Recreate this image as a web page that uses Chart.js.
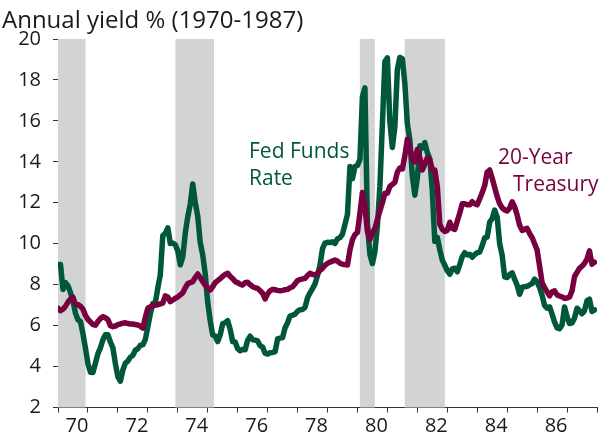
<!DOCTYPE html>
<html>
<head>
<meta charset="utf-8">
<script src="https://cdn.jsdelivr.net/npm/chart.js@4.4.0/dist/chart.umd.min.js"></script>
<style>
html,body{margin:0;padding:0;background:#ffffff;}
#wrap{width:604px;height:437px;position:relative;}
</style>
</head>
<body>
<div id="wrap"><canvas id="c" width="604" height="437"></canvas></div>
<script>
// ---- Data (monthly, Jan 1970 – Dec 1987) ----
const startYear = 1970;
const titleText = 'Annual yield % (1970-1987)';
const xTickLabels = ['70','72','74','76','78','80','82','84','86'];
const yMin = 2, yMax = 20, yStep = 2;

const fedFunds = [
  8.98, 8.98, 7.76, 8.10, 7.95, 7.61, 7.21, 6.61, 6.29, 6.20, 5.60, 4.90,
  4.14, 3.72, 3.71, 4.16, 4.63, 4.91, 5.31, 5.56, 5.55, 5.20, 4.91, 4.14,
  3.50, 3.29, 3.83, 4.17, 4.27, 4.46, 4.55, 4.80, 4.87, 5.04, 5.06, 5.33,
  5.94, 6.58, 7.09, 7.12, 7.84, 8.49, 10.40, 10.50, 10.78, 10.01, 10.03, 9.95,
  9.65, 8.97, 9.35, 10.51, 11.31, 11.93, 12.92, 12.01, 11.34, 10.06, 9.45, 8.53,
  7.13, 6.24, 5.54, 5.49, 5.22, 5.55, 6.10, 6.14, 6.24, 5.82, 5.22, 5.20,
  4.87, 4.77, 4.84, 4.82, 5.29, 5.48, 5.31, 5.29, 5.25, 5.02, 4.95, 4.65,
  4.61, 4.68, 4.69, 4.73, 5.35, 5.39, 5.42, 5.90, 6.14, 6.47, 6.51, 6.56,
  6.70, 6.78, 6.79, 6.89, 7.36, 7.60, 7.81, 8.04, 8.45, 8.96, 9.76, 10.03,
  10.07, 10.06, 10.09, 10.01, 10.24, 10.29, 10.47, 10.94, 11.43, 13.77, 13.18, 13.78,
  13.82, 14.13, 17.19, 17.61, 10.98, 9.47, 9.03, 9.61, 10.87, 12.81, 15.85, 18.90,
  19.08, 15.93, 14.70, 15.72, 18.52, 19.10, 19.04, 17.82, 15.87, 15.08, 13.31, 12.37,
  13.22, 14.78, 14.68, 14.94, 14.45, 14.15, 12.59, 10.12, 10.31, 9.71, 9.20, 8.95,
  8.68, 8.51, 8.77, 8.80, 8.63, 8.98, 9.37, 9.56, 9.45, 9.48, 9.34, 9.47,
  9.56, 9.59, 9.91, 10.29, 10.32, 11.06, 11.23, 11.64, 11.30, 9.99, 9.43, 8.38,
  8.35, 8.50, 8.58, 8.27, 7.97, 7.53, 7.88, 7.90, 7.92, 7.99, 8.05, 8.27,
  8.14, 7.86, 7.48, 6.99, 6.85, 6.92, 6.56, 6.17, 5.89, 5.85, 6.04, 6.91,
  6.43, 6.10, 6.13, 6.37, 6.85, 6.73, 6.58, 6.73, 7.22, 7.29, 6.69, 6.77
];

const treasury20 = [
  6.85, 6.73, 6.80, 6.95, 7.15, 7.30, 7.38, 7.05, 7.02, 6.95, 6.80, 6.50,
  6.30, 6.18, 6.05, 6.02, 6.20, 6.35, 6.44, 6.38, 6.30, 6.00, 5.95, 5.98,
  6.05, 6.08, 6.12, 6.14, 6.10, 6.08, 6.08, 6.05, 6.03, 5.98, 5.88, 6.40,
  6.85, 6.92, 6.97, 7.00, 7.02, 7.06, 7.10, 7.45, 7.40, 7.17, 7.25, 7.33,
  7.40, 7.50, 7.60, 7.85, 8.05, 8.10, 8.15, 8.35, 8.52, 8.35, 8.15, 7.98,
  7.85, 7.74, 7.90, 8.10, 8.20, 8.30, 8.40, 8.50, 8.56, 8.40, 8.30, 8.15,
  8.10, 8.02, 7.98, 8.10, 8.12, 8.00, 7.90, 7.85, 7.82, 7.70, 7.58, 7.30,
  7.55, 7.70, 7.77, 7.75, 7.72, 7.70, 7.72, 7.75, 7.77, 7.85, 7.90, 8.05,
  8.20, 8.25, 8.28, 8.31, 8.45, 8.56, 8.50, 8.47, 8.55, 8.70, 8.80, 8.95,
  9.04, 9.10, 9.15, 9.20, 9.15, 9.05, 9.00, 8.98, 8.96, 9.70, 10.20, 10.45,
  10.55, 11.50, 12.50, 11.80, 10.60, 10.20, 10.55, 10.75, 11.20, 11.60, 12.00, 12.46,
  12.46, 12.80, 12.90, 13.00, 13.50, 13.70, 13.65, 14.30, 15.10, 14.70, 14.10, 14.00,
  14.60, 14.20, 13.60, 13.90, 14.20, 14.10, 13.60, 13.60, 12.80, 10.95, 10.70, 10.60,
  10.65, 11.05, 10.75, 10.70, 11.10, 11.50, 11.95, 11.95, 11.90, 11.90, 12.05, 11.95,
  11.90, 12.20, 12.50, 12.85, 13.50, 13.60, 13.20, 12.75, 12.30, 11.95, 11.75, 11.65,
  11.60, 11.75, 12.05, 11.80, 11.40, 10.90, 10.65, 10.70, 10.75, 10.50, 10.30, 10.00,
  9.70, 8.90, 8.10, 7.85, 7.65, 7.45, 7.65, 7.70, 7.50, 7.45, 7.40, 7.33,
  7.35, 7.40, 7.70, 8.40, 8.60, 8.80, 8.90, 9.05, 9.25, 9.65, 9.00, 9.10
];

// Recession periods (decimal years)
const recessionStart = [1969.92, 1973.92, 1980.08, 1981.58];
const recessionEnd   = [1970.92, 1975.21, 1980.58, 1982.92];

const seriesLabels = ['20-Year Treasury', 'Fed Funds Rate'];
const annotationLines = [
  {text: 'Fed Funds', series: 1},
  {text: 'Rate', series: 1},
  {text: '20-Year', series: 0},
  {text: 'Treasury', series: 0}
];

// ---- Styling ----
const GREEN = '#00573b';
const MAROON = '#780040';
const BAND = '#d1d3d4';
const TEXT = '#1a1a1a';
const FONT = '"Open Sans", "DejaVu Sans", sans-serif';

function toPoints(arr){
  return arr.map((v,i)=>({x: startYear + i/12, y: v}));
}

const recessionPlugin = {
  id: 'recessions',
  beforeDatasetsDraw(chart){
    const {ctx, chartArea, scales} = chart;
    ctx.save();
    ctx.fillStyle = BAND;
    for (let i=0;i<recessionStart.length;i++){
      let x1 = Math.max(scales.x.getPixelForValue(recessionStart[i]), chartArea.left);
      let x2 = Math.min(scales.x.getPixelForValue(recessionEnd[i]), chartArea.right);
      ctx.fillRect(x1, chartArea.top, x2-x1, chartArea.bottom-chartArea.top);
    }
    ctx.restore();
  }
};

const textPlugin = {
  id: 'texts',
  afterDraw(chart){
    const ctx = chart.ctx;
    ctx.save();
    ctx.textBaseline = 'alphabetic';
    ctx.textAlign = 'left';
    ctx.fillStyle = TEXT;
    ctx.font = '24px ' + FONT;
    ctx.fillText(titleText, 2, 28);
    ctx.font = '21px ' + FONT;
    const pos = [[249, 158], [249, 185], [498, 164], [513, 191]];
    annotationLines.forEach((a, i)=>{
      ctx.fillStyle = a.series === 1 ? GREEN : MAROON;
      ctx.fillText(a.text, pos[i][0], pos[i][1]);
    });
    ctx.restore();
  }
};

const ctx = document.getElementById('c').getContext('2d');
new Chart(ctx, {
  type: 'line',
  data: {
    datasets: [
      {label: seriesLabels[0], data: toPoints(treasury20), borderColor: MAROON, borderWidth: 5.5,
       pointRadius: 0, tension: 0, borderJoinStyle: 'round', borderCapStyle: 'round', fill: false},
      {label: seriesLabels[1], data: toPoints(fedFunds), borderColor: GREEN, borderWidth: 5.5,
       pointRadius: 0, tension: 0, borderJoinStyle: 'round', borderCapStyle: 'round', fill: false}
    ]
  },
  options: {
    responsive: false,
    animation: false,
    devicePixelRatio: 1,
    layout: {padding: {top: 39, right: 7, left: 0, bottom: 0}},
    plugins: {legend: {display: false}, tooltip: {enabled: false}, title: {display: false}},
    scales: {
      x: {
        type: 'linear', min: startYear, max: startYear + 18,
        afterFit(s){ s.height = 29.5; },
        afterBuildTicks(s){
          const t = [];
          for (let y = startYear; y <= startYear + 18; y++) t.push({value: y});
          s.ticks = t;
        },
        grid: {drawOnChartArea: false, drawTicks: true, tickLength: 5, color: '#333', lineWidth: 1},
        border: {display: true, color: '#333', width: 1},
        ticks: {
          autoSkip: false, maxRotation: 0, minRotation: 0, padding: 2, labelOffset: 19,
          color: TEXT, font: {family: FONT, size: 20},
          callback(v){
            const lab = String(Math.round(v) % 100).padStart(2,'0');
            return xTickLabels.includes(lab) && v < startYear + 18 ? lab : '';
          }
        }
      },
      y: {
        type: 'linear', min: yMin, max: yMax,
        afterFit(s){ s.width = 58; },
        grid: {drawOnChartArea: false, drawTicks: true, tickLength: 5, color: '#333', lineWidth: 1},
        border: {display: true, color: '#333', width: 1},
        ticks: {stepSize: yStep, padding: 12, color: TEXT, font: {family: FONT, size: 20}}
      }
    }
  },
  plugins: [recessionPlugin, textPlugin]
});
</script>
</body>
</html>
